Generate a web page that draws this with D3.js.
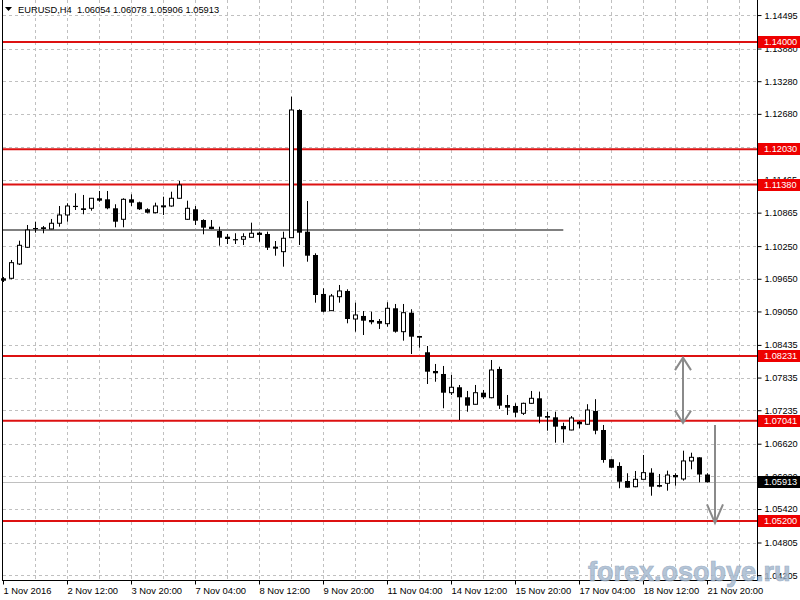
<!DOCTYPE html>
<html><head><meta charset="utf-8">
<script src="https://cdn.jsdelivr.net/npm/d3@7"></script>
<style>
body{margin:0;background:#fff}
svg{display:block}
text{font-family:"Liberation Sans",Arial,sans-serif}
</style>
</head><body><svg id="c" width="800" height="600"></svg>
<script>
// ---- data ----
const opens=[1.09659,1.09659,1.09922,1.10229,1.10583,1.10596,1.10565,1.10670,1.10822,1.10990,
1.10945,1.10945,1.11129,1.11110,1.10945,1.10743,1.11110,1.11055,1.10927,1.10864,
1.10985,1.10987,1.11129,1.10743,1.10927,1.10730,1.10607,1.10528,1.10423,1.10378,
1.10376,1.10412,1.10497,1.10473,1.10240,1.10148,1.10405,1.12751,1.10515,1.10087,
1.09371,1.09064,1.09321,1.09426,1.08911,1.08967,1.08893,1.08875,1.08825,1.09108,
1.08678,1.09027,1.08599,1.08300,1.07956,1.07901,1.07557,1.07657,1.07473,1.07344,
1.07557,1.07465,1.07993,1.07331,1.07313,1.07179,1.07362,1.07454,1.07129,1.07105,
1.06946,1.06872,1.07024,1.06977,1.07221,1.06872,1.06334,1.06211,1.05935,1.05830,
1.05966,1.06088,1.05861,1.05893,1.06045,1.05972,1.06303,1.06370,1.06054];
const highs=[1.09683,1.09995,1.10350,1.10638,1.10699,1.10620,1.10749,1.10987,1.11037,1.11221,
1.11190,1.11135,1.11263,1.11263,1.11019,1.11129,1.11202,1.11066,1.10945,1.11048,
1.11158,1.11250,1.11447,1.11085,1.10987,1.10743,1.10730,1.10607,1.10473,1.10486,
1.10486,1.10681,1.10515,1.10515,1.10344,1.10515,1.12995,1.12764,1.11079,1.10118,
1.09475,1.09371,1.09536,1.09457,1.09211,1.09058,1.09045,1.08911,1.09219,1.09187,
1.09187,1.09090,1.08601,1.08415,1.08085,1.08048,1.07883,1.07699,1.07589,1.07699,
1.07607,1.08158,1.08035,1.07515,1.07362,1.07374,1.07589,1.07577,1.07208,1.07208,
1.07006,1.07129,1.07037,1.07346,1.07438,1.06964,1.06336,1.06279,1.06077,1.06119,
1.06413,1.06169,1.06064,1.06125,1.06077,1.06492,1.06455,1.06372,1.06078];
const lows=[1.09591,1.09641,1.09903,1.10216,1.10497,1.10486,1.10560,1.10607,1.10699,1.10914,
1.10835,1.10901,1.11066,1.10927,1.10596,1.10596,1.10987,1.10914,1.10853,1.10853,
1.10822,1.10974,1.11120,1.10730,1.10638,1.10467,1.10560,1.10258,1.10289,1.10289,
1.10270,1.10410,1.10331,1.10179,1.10074,1.09872,1.10400,1.10271,1.09964,1.09211,
1.09034,1.09060,1.09211,1.08832,1.08678,1.08617,1.08814,1.08728,1.08770,1.08660,
1.08513,1.08268,1.08384,1.07717,1.07759,1.07271,1.07515,1.07056,1.07208,1.07340,
1.07442,1.07454,1.07258,1.07148,1.07105,1.07148,1.07350,1.06995,1.06859,1.06639,
1.06639,1.06866,1.06903,1.06964,1.06793,1.06271,1.06177,1.05801,1.05810,1.05819,
1.05963,1.05665,1.05819,1.05757,1.05849,1.05941,1.06150,1.05911,1.05906];
const closes=[1.09615,1.09946,1.10265,1.10546,1.10578,1.10565,1.10670,1.10822,1.10987,1.10985,
1.10914,1.11129,1.11085,1.10945,1.10699,1.11110,1.11048,1.10927,1.10864,1.10987,
1.10990,1.11129,1.11373,1.10945,1.10717,1.10589,1.10565,1.10405,1.10381,1.10374,
1.10423,1.10486,1.10455,1.10221,1.10203,1.10394,1.12751,1.10497,1.10074,1.09352,
1.09045,1.09334,1.09426,1.08911,1.08985,1.08880,1.08851,1.08825,1.09108,1.08678,
1.09027,1.08586,1.08568,1.07943,1.07914,1.07557,1.07657,1.07473,1.07319,1.07557,
1.07473,1.07974,1.07319,1.07282,1.07190,1.07362,1.07454,1.07116,1.07098,1.06933,
1.06885,1.07093,1.06977,1.07239,1.06859,1.06321,1.06179,1.05922,1.05812,1.05966,
1.06088,1.05830,1.05830,1.06045,1.06003,1.06303,1.06370,1.06054,1.05913];
const timeLabels=["1 Nov 2016","2 Nov 12:00","3 Nov 20:00","7 Nov 04:00","8 Nov 12:00","9 Nov 20:00",
"11 Nov 04:00","14 Nov 12:00","15 Nov 20:00","17 Nov 04:00","18 Nov 12:00","21 Nov 20:00"];
const priceTicks=[1.14495,1.13880,1.13280,1.12680,1.12065,1.11465,1.10865,1.10250,1.09650,
1.09050,1.08435,1.07835,1.07235,1.06620,1.06020,1.05420,1.04805,1.04205];
const levels=[1.14000,1.12030,1.11380,1.08231,1.07041,1.05200];
const lastPrice=1.05913;
const trendPrice=1.10546, trendStart=0, trendEnd=70;
const arrowIndex=[85,89];
const arrowFrom=[1.08200,1.06964];
const arrowTo=[1.07000,1.05164];
const arrowBoth=[true,false];
const titleText="EURUSD,H4  1.06054 1.06078 1.05906 1.05913";
const watermark="forex.osobye.ru";

// ---- layout ----
const L=3, R=757, B=580;
const svg=d3.select("#c");
svg.append("rect").attr("width",800).attr("height",600).attr("fill","#fff");
const x=d3.scaleLinear().domain([0,94.25]).range([3,757]);
const y=d3.scaleLinear().domain([1.14,1.052]).range([42,521]);
const fmt=d3.format(".5f");
const GRID="#c0c0c0";

// grid
const g=svg.append("g");
g.selectAll("line.h").data(priceTicks).join("line")
 .attr("x1",L).attr("x2",R).attr("y1",d=>Math.round(y(d))+0.5).attr("y2",d=>Math.round(y(d))+0.5)
 .attr("stroke",GRID).attr("stroke-dasharray","3,3");
g.selectAll("line.v").data(d3.range(4,94,4)).join("line")
 .attr("x1",d=>Math.round(x(d))+0.5).attr("x2",d=>Math.round(x(d))+0.5).attr("y1",0).attr("y2",B)
 .attr("stroke",GRID).attr("stroke-dasharray","3,3");

// current price line
svg.append("line").attr("x1",L).attr("x2",R)
 .attr("y1",Math.round(y(lastPrice))+0.5).attr("y2",Math.round(y(lastPrice))+0.5)
 .attr("stroke","#c0c0c0").attr("stroke-width",1);

// level lines
svg.selectAll("line.lvl").data(levels).join("line")
 .attr("x1",L).attr("x2",R).attr("y1",d=>y(d)).attr("y2",d=>y(d))
 .attr("stroke","#dd1111").attr("stroke-width",2);

// grey trend line
svg.append("line").attr("x1",x(trendStart)).attr("x2",x(trendEnd)+0.3)
 .attr("y1",y(trendPrice)).attr("y2",y(trendPrice))
 .attr("stroke","#808080").attr("stroke-width",2);

// candles
const idx=d3.range(opens.length);
const cg=svg.append("g");
idx.forEach(i=>{
  const cx=Math.round(x(i));
  const o=opens[i],c=closes[i],h=highs[i],l=lows[i];
  cg.append("line").attr("x1",cx+0.5).attr("x2",cx+0.5).attr("y1",y(h)).attr("y2",y(l))
    .attr("stroke","#000").attr("stroke-width",1);
  const top=y(Math.max(o,c)), bot=y(Math.min(o,c));
  if(c>o){
    cg.append("rect").attr("x",cx-1.5).attr("width",4).attr("y",top).attr("height",Math.max(1,bot-top))
      .attr("fill","#fff").attr("stroke","#000").attr("stroke-width",1);
  } else {
    cg.append("rect").attr("x",cx-2).attr("width",5).attr("y",top).attr("height",Math.max(1.2,bot-top))
      .attr("fill","#000");
  }
});

// arrows
const ag=svg.append("g").attr("stroke","#8a8a8a").attr("stroke-width",2).attr("fill","none");
arrowIndex.forEach((k,i)=>{
  const ax=x(k), y1=y(arrowFrom[i]), y2=y(arrowTo[i]);
  const len=Math.abs(y2-y1), hl=len*0.19, hw=8;
  ag.append("line").attr("x1",ax).attr("x2",ax).attr("y1",y1).attr("y2",y2);
  ag.append("path").attr("d",`M${ax-hw},${y2-hl}L${ax},${y2}L${ax+hw},${y2-hl}`);
  if(arrowBoth[i]) ag.append("path").attr("d",`M${ax-hw},${y1+hl}L${ax},${y1}L${ax+hw},${y1+hl}`);
});

// frame
svg.append("line").attr("x1",2.5).attr("x2",2.5).attr("y1",0).attr("y2",B).attr("stroke","#000");
svg.append("line").attr("x1",R+0.5).attr("x2",R+0.5).attr("y1",0).attr("y2",B+0.5).attr("stroke","#000");

// right axis
const ya=svg.append("g").attr("transform",`translate(${R+0.5},0)`)
 .call(d3.axisRight(y).tickValues(priceTicks).tickFormat(fmt).tickSize(4).tickPadding(3));
ya.select(".domain").remove();
ya.selectAll(".tick line").attr("stroke","#000");
ya.selectAll("text").attr("font-size",9.2).attr("font-family","Liberation Sans, Arial, sans-serif").attr("fill","#000");

// bottom axis
const xa=svg.append("g").attr("transform",`translate(0,${B+0.5})`)
 .call(d3.axisBottom(x).tickValues(d3.range(0,opens.length,8)).tickFormat((d,i)=>timeLabels[i]).tickSize(4).tickPadding(3));
xa.select(".domain").attr("d",`M2,0H${R+1}`).attr("stroke","#000");
xa.selectAll(".tick line").attr("stroke","#000");
xa.selectAll("text").attr("text-anchor","start").attr("x",0).attr("font-size",9.4)
 .attr("font-family","Liberation Sans, Arial, sans-serif").attr("fill","#000");

// price labels
const labs=levels.map(v=>({v,bg:"#ee0000"})).concat([{v:lastPrice,bg:"#000"}]);
const lg=svg.append("g");
labs.forEach(d=>{
  const yy=Math.round(y(d.v));
  lg.append("rect").attr("x",R+1).attr("y",yy-6).attr("width",800-R-1).attr("height",12).attr("fill",d.bg);
  lg.append("text").attr("x",R+7).attr("y",yy).attr("dy","0.34em").attr("font-size",9.2)
    .attr("fill","#fff").text(fmt(d.v));
});

// title
svg.append("path").attr("d","M5,7L12,7L8.5,11Z").attr("fill","#000");
svg.append("text").attr("x",18).attr("y",13).attr("font-size",9.3).attr("fill","#000")
 .attr("xml:space","preserve").style("white-space","pre").text(titleText);

// watermark
svg.append("text").attr("x",588).attr("y",581).attr("font-family","DejaVu Sans, sans-serif")
 .attr("font-weight","bold").attr("font-size",27).attr("fill","#a9bbcf").attr("stroke","#8fa5bf")
 .attr("stroke-width",0.7).attr("opacity",0.85).text(watermark);
</script></body></html>
